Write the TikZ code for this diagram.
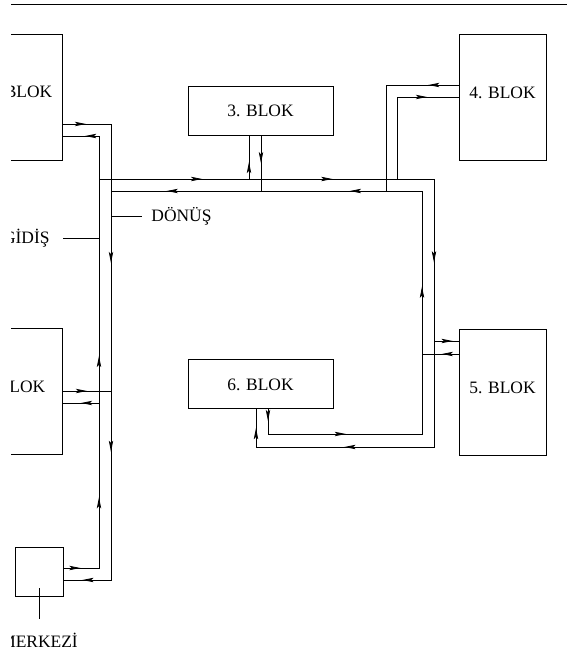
\documentclass[tikz,border=0pt]{standalone}
\usepackage{fontspec}
\setmainfont{Liberation Serif}
\usetikzlibrary{arrows.meta,positioning,decorations.markings}

\begin{document}
\begin{tikzpicture}[
    x=0.25mm, y=-0.25mm, line width=0.6pt,
    font=\fontsize{12.4}{15}\selectfont,
    blok/.style={draw, minimum width=21.75mm, minimum height=31.5mm,
        text depth=2.5mm, inner sep=0pt},
    kutu/.style={draw, minimum width=36.25mm, minimum height=12.25mm,
        inner sep=0pt},
    etiket/.style={inner sep=0pt},
    ok/.style={postaction={decorate, decoration={markings,
        mark=at position #1 with {\arrow{Stealth[length=2.8mm, width=1.1mm, inset=0.6mm]}}}}}
]
    \useasboundingbox (0,0) rectangle (567,664);
    \clip (11,0) rectangle (567,664);
    \draw (0,4) -- (567,4);

    \node[blok, anchor=east] (blok1) at (63,97) {1. BLOK};
    \node[blok, minimum width=25.25mm, below=42mm of blok1.south east,
        anchor=north east] (blok2) {2. BLOK};
    \node[kutu] (blok3) at (260.5,110.5) {3. BLOK};
    \node[blok] (blok4) at (502.5,97.5) {4. BLOK};
    \node[blok, below=42mm of blok4] (blok5) {5. BLOK};
    \node[kutu, below=56mm of blok3] (blok6) {6. BLOK};
    \node[draw, minimum width=12mm, minimum height=12.25mm] (merkez) at (39,571.5) {};

    \node[etiket, anchor=east, inner xsep=3.25mm] (gidis) at (63,238) {GİDİŞ};
    \node[etiket, anchor=west, inner xsep=2.25mm] (donus) at (142,216) {DÖNÜŞ};
    \node[etiket, anchor=north, inner ysep=3.5mm] (merkezyazi) at (39,619) {MERKEZİ};

    % hat koseleri
    \coordinate (gsol) at (99,179);
    \coordinate (gsag) at (434,179);
    \coordinate (galt) at (434,447);
    \coordinate (dsol) at (111,191);
    \coordinate (dsag) at (422,191);
    \coordinate (dalt) at (422,434);
    \coordinate (isaret) at (39,588);

    % gidis hatti
    \draw[ok=0.085, ok=0.53] (merkez.east |- 0,568) -- (gsol |- 0,568) -- (gsol |- 0,403);
    \draw[ok=0.21] (gsol |- 0,403) -- (gsol);
    \draw[ok=0.72] (gsol) -- (gsol |- 0,136) -- (blok1.east |- 0,136);
    \draw[ok=0.5] (gsol |- 0,403) -- (blok2.east |- 0,403);
    \draw[ok=0.126, ok=0.285, ok=0.511, ok=0.846, ok=0.977]
        (gsol) -- (gsag) -- (galt) -- (galt -| 256,0) -- (blok6.south -| 256,0);
    \draw[ok=0.39] (gsol -| 249,0) -- (blok3.south -| 249,0);
    \draw[ok=0.78] (gsol -| 397,0) -- (397,97) -- (blok4.west |- 0,97);
    \draw[ok=0.76] (gsag |- 0,341) -- (blok5.west |- 0,341);

    % donus hatti
    \draw[ok=0.2] (blok1.east |- 0,124) -- (dsol |- 0,124) -- (dsol);
    \draw[ok=0.36] (dsol) -- (dsol |- 0,391);
    \draw[ok=0.257, ok=0.92] (dsol |- 0,391) -- (dsol |- 0,580) -- (merkez.east |- 0,580);
    \draw[ok=0.5] (blok2.east |- 0,391) -- (dsol |- 0,391);
    \draw[ok=0.016, ok=0.14, ok=0.445, ok=0.674, ok=0.924]
        (blok6.south -| 268,0) -- (dalt -| 268,0) -- (dalt) -- (dsag) -- (dsol);
    \draw[ok=0.5] (blok3.south -| 261,0) -- (dsol -| 261,0);
    \draw[ok=0.17] (blok4.west |- 0,85) -- (386,85) -- (dsol -| 386,0);
    \draw[ok=0.46] (blok5.west |- 0,354) -- (dsag |- 0,354);

    % etiket cizgileri
    \draw (gidis.east) -- (gidis.east -| gsol);
    \draw (dsol |- donus.west) -- (donus.west);
    \draw (isaret) -- (merkezyazi.north);
\end{tikzpicture}
\end{document}
